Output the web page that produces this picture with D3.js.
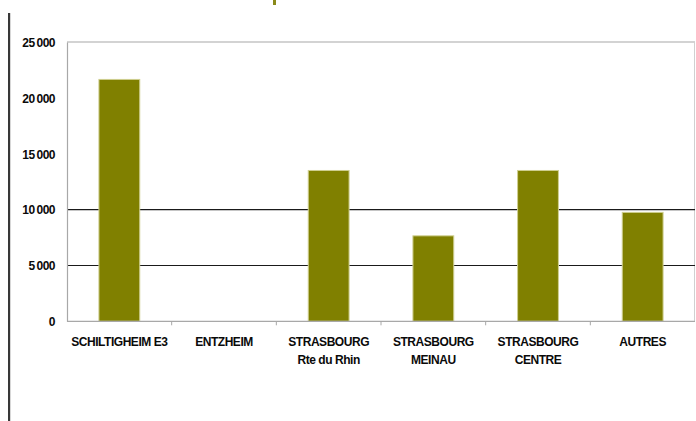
<!DOCTYPE html>
<html>
<head>
<meta charset="utf-8">
<script src="https://cdn.jsdelivr.net/npm/d3@7"></script>
<style>
  html, body { margin: 0; padding: 0; background: #fff; }
  svg { display: block; }
  text { font-family: "Liberation Sans", Arial, sans-serif; font-weight: bold; fill: #0a0a0a; }
</style>
</head>
<body>
<svg id="chart" width="696" height="421"></svg>
<script>
// Sites (two-line labels split on "|") and their values
const categories = [
  "SCHILTIGHEIM E3",
  "ENTZHEIM",
  "STRASBOURG|Rte du Rhin",
  "STRASBOURG|MEINAU",
  "STRASBOURG|CENTRE",
  "AUTRES"
];
const values = [21650, 0, 13500, 7650, 13500, 9750];
const yTicks = [0, 5000, 10000, 15000, 20000, 25000];
const gridValues = [5000, 10000];

const svg = d3.select("#chart");
const margin = { left: 67, right: 1, top: 42, bottom: 100 };
const W = 696, H = 421;
const x0 = margin.left, x1 = W - margin.right;
const y0 = H - margin.bottom, y1 = margin.top;

const x = d3.scaleBand().domain(categories).range([x0, x1]).paddingInner(0.61).paddingOuter(0.305);
const xCat = d3.scaleBand().domain(categories).range([x0, x1]);
const y = d3.scaleLinear().domain([0, 25000]).range([y0 + 0.3, y1]);

// Left vertical rule of the slide
svg.append("rect").attr("x", 8).attr("y", 13).attr("width", 2.2).attr("height", H - 13).attr("fill", "#383838");
// Small olive accent at the top
svg.append("rect").attr("x", 273).attr("y", 0).attr("width", 3).attr("height", 5).attr("fill", "#8a8a1a");

// Plot frame
svg.append("line").attr("x1", x0).attr("x2", x1).attr("y1", y(25000)).attr("y2", y(25000))
  .attr("stroke", "#a8a8a8").attr("stroke-width", 1.2);
svg.append("line").attr("x1", x1 - 0.5).attr("x2", x1 - 0.5).attr("y1", y(25000)).attr("y2", y(0))
  .attr("stroke", "#d0d0d0").attr("stroke-width", 1);

// Gridlines
svg.append("g").selectAll("line").data(gridValues).join("line")
  .attr("x1", x0).attr("x2", x1)
  .attr("y1", d => y(d)).attr("y2", d => y(d))
  .attr("stroke", "#1a1a1a").attr("stroke-width", 1.1);

// Bars
svg.append("g").selectAll("rect").data(values).join("rect")
  .attr("x", (d, i) => x(categories[i]))
  .attr("width", x.bandwidth())
  .attr("y", d => y(d))
  .attr("height", d => y(0) - y(d))
  .attr("fill", "#808000")
  .attr("stroke", "#cfcf90")
  .attr("stroke-width", d => d > 0 ? 1 : 0);

// Y axis
const yAxis = svg.append("g").attr("transform", `translate(${x0},0)`)
  .call(d3.axisLeft(y).tickValues(yTicks).tickSize(0).tickPadding(12)
    .tickFormat(d => d3.format(",")(d).replace(",", "\u2009")));
yAxis.select(".domain").attr("stroke", "#a8a8a8").attr("stroke-width", 1.2);
yAxis.selectAll("text").style("font-size", "12px").attr("dy", "0.36em").attr("letter-spacing", "-0.5px");

// X axis line and tick marks at category boundaries
svg.append("line").attr("x1", x0).attr("x2", x1).attr("y1", y(0)).attr("y2", y(0))
  .attr("stroke", "#a8a8a8").attr("stroke-width", 1.2);
const bounds = categories.slice(1).map(c => xCat(c));
svg.append("g").selectAll("line").data(bounds).join("line")
  .attr("x1", d => d).attr("x2", d => d)
  .attr("y1", y(0)).attr("y2", y(0) + 4)
  .attr("stroke", "#a8a8a8").attr("stroke-width", 1);

// Category labels
const labels = svg.append("g").selectAll("text").data(categories).join("text")
  .attr("x", d => xCat(d) + xCat.bandwidth() / 2)
  .attr("y", 346)
  .attr("text-anchor", "middle")
  .style("font-size", "12px")
  .attr("letter-spacing", "-0.45px");
labels.each(function(d) {
  const parts = d.split("|");
  const t = d3.select(this);
  parts.forEach((p, i) => {
    t.append("tspan").attr("x", xCat(d) + xCat.bandwidth() / 2).attr("dy", i === 0 ? 0 : 18).text(p);
  });
});
</script>
</body>
</html>
